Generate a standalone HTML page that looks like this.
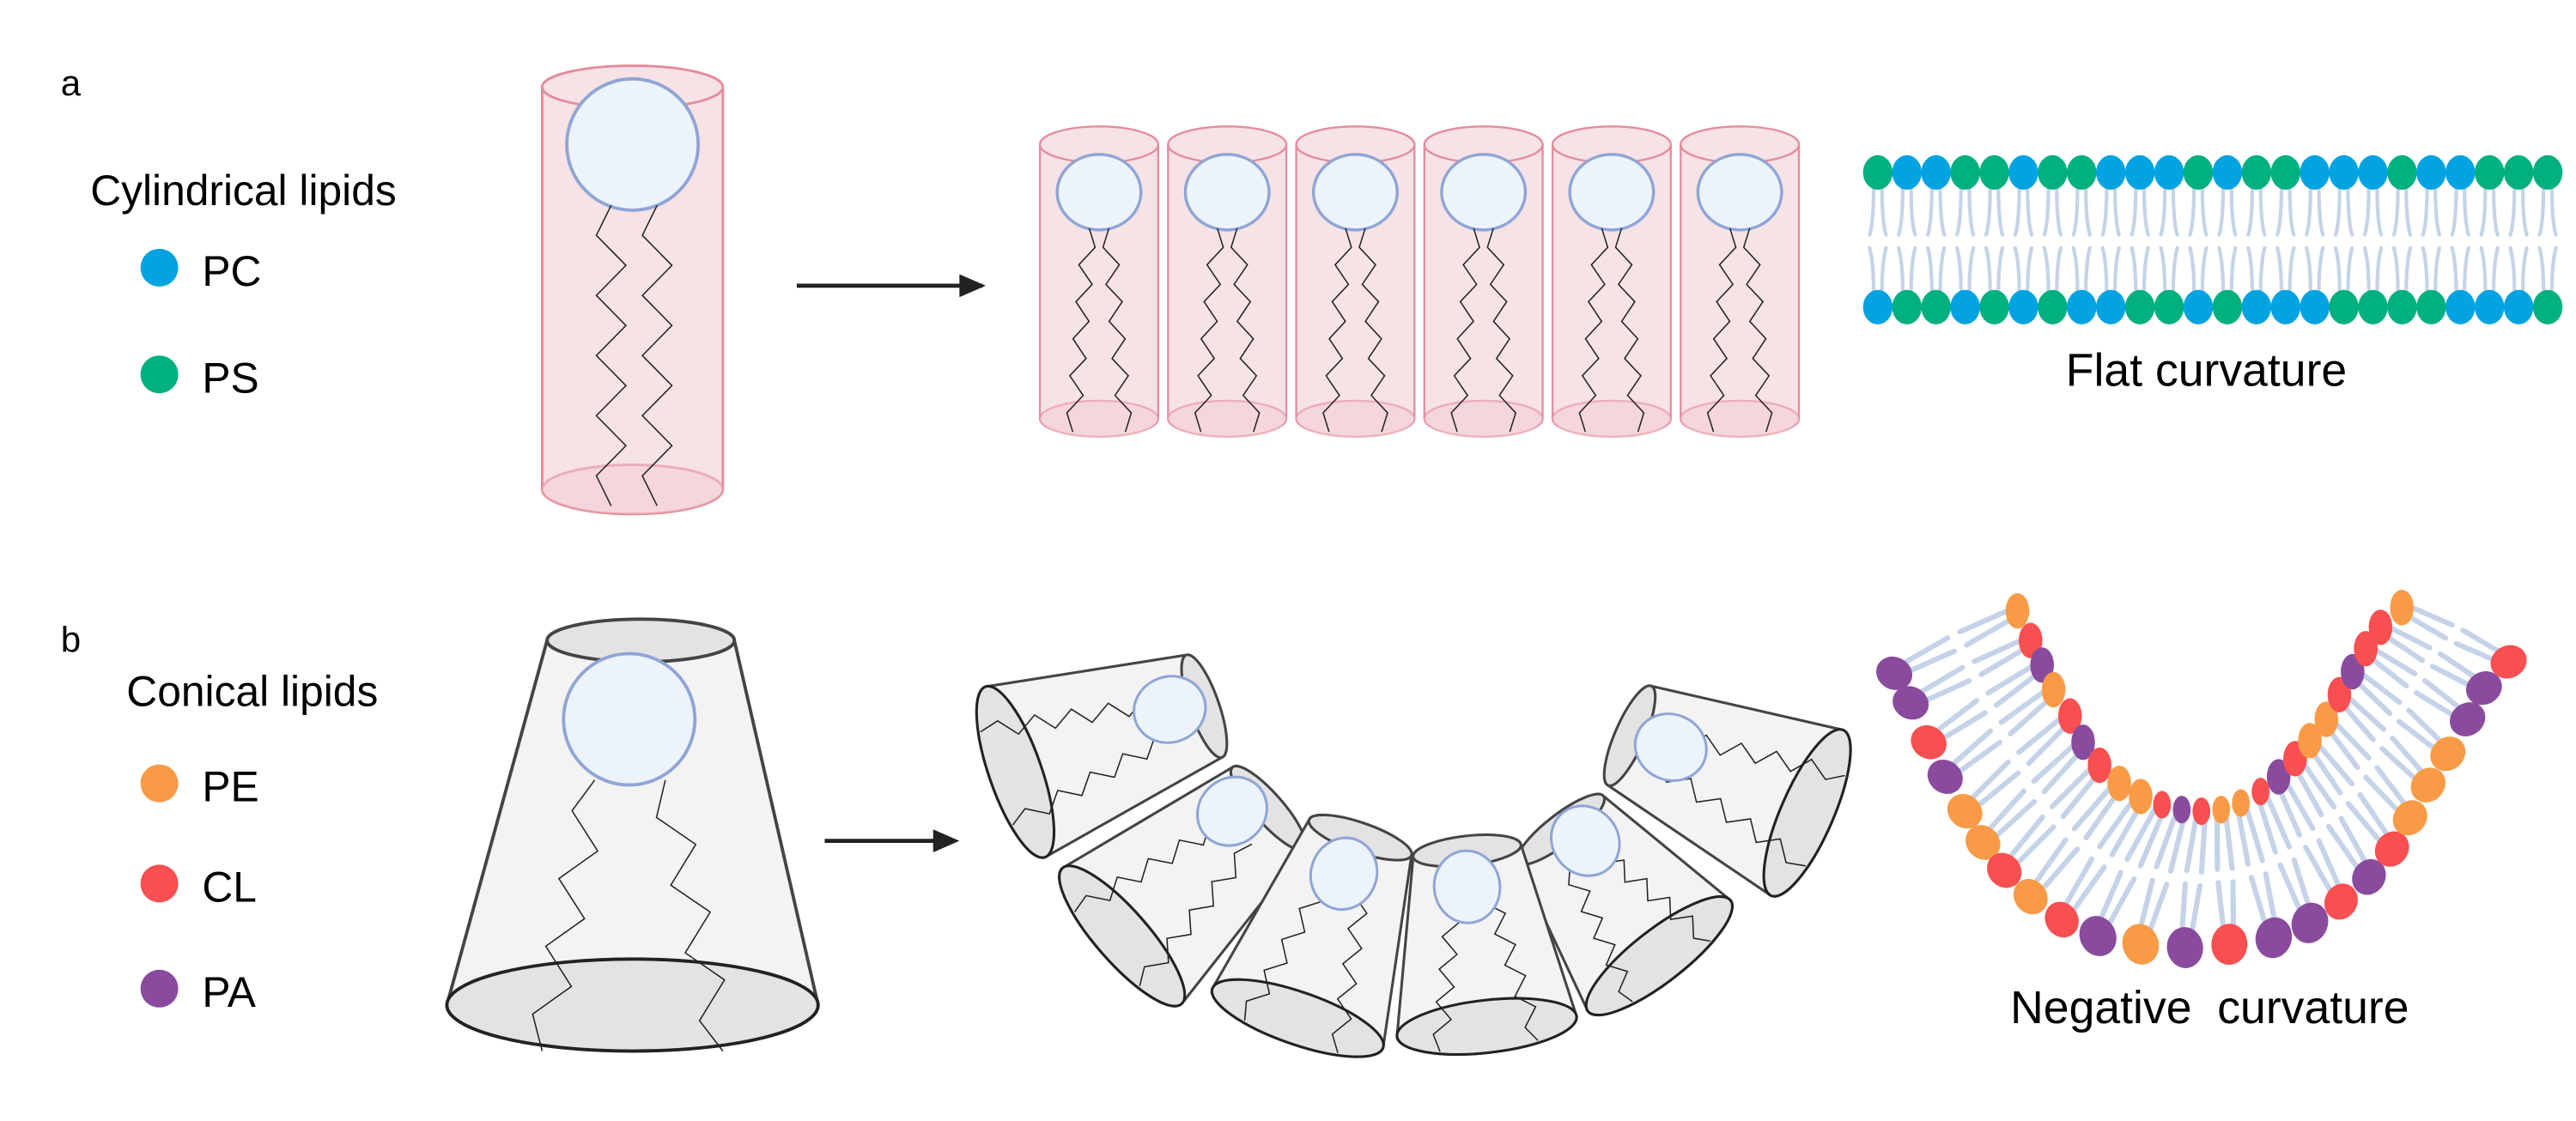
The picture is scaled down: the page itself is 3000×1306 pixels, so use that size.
<!DOCTYPE html>
<html><head><meta charset="utf-8">
<style>
html,body{margin:0;padding:0;background:#fff;}
svg{display:block;}
text{font-family:"Liberation Sans",sans-serif;fill:#000;}
</style></head>
<body>
<svg id="s" width="3000" height="1306" viewBox="0 0 1568 682.6" xmlns="http://www.w3.org/2000/svg">
<text x="37" y="58" font-size="22">a</text>
<text x="55" y="125" font-size="26">Cylindrical lipids</text>
<circle cx="97" cy="163" r="11.5" fill="#03a3e2"/>
<text x="123" y="174" font-size="26">PC</text>
<circle cx="97" cy="228" r="11.5" fill="#00b07f"/>
<text x="123" y="239" font-size="26">PS</text>
<text x="37" y="397" font-size="22">b</text>
<text x="77" y="430" font-size="26">Conical lipids</text>
<circle cx="97" cy="477" r="11.5" fill="#f99b46"/>
<text x="123" y="488" font-size="26">PE</text>
<circle cx="97" cy="538" r="11.5" fill="#f84f50"/>
<text x="123" y="549" font-size="26">CL</text>
<circle cx="97" cy="602" r="11.5" fill="#8a4b9f"/>
<text x="123" y="613" font-size="26">PA</text>
<text x="1343" y="235" font-size="28" text-anchor="middle">Flat curvature</text>
<text x="1345" y="623" font-size="28" text-anchor="middle" xml:space="preserve">Negative  curvature</text>
<line x1="485" y1="174" x2="598" y2="174" stroke="#222" stroke-width="2.5"/>
<path d="M584,167 L600,174 L584,181 z" fill="#222"/>
<line x1="502" y1="512" x2="570" y2="512" stroke="#222" stroke-width="2.5"/>
<path d="M568,505 L584,512 L568,519 z" fill="#222"/>
<g id="g"></g>
</svg>
<script>
var G=document.getElementById("g"),out="";
function zig(x0,y0,x1,y1,n,a){var dx=x1-x0,dy=y1-y0,L=Math.hypot(dx,dy),px=-dy/L,py=dx/L,p=[];
for(var i=0;i<=n;i++){var t=i/n,o=(i==0||i==n)?0:(i%2?a:-a);p.push((x0+dx*t+px*o).toFixed(1)+","+(y0+dy*t+py*o).toFixed(1));}
return '<polyline points="'+p.join(" ")+'" fill="none" stroke="#222" stroke-width="0.8"/>';}
// big cylinder
out+='<g fill="#f7e2e6" stroke="#e48c9c" stroke-width="1.5"><path d="M330,53 L330,298 A55,15 0 0 0 440,298 L440,53 z"/><ellipse cx="385" cy="53" rx="55" ry="13"/><ellipse cx="385" cy="298" rx="55" ry="15" fill="#f4d6dc" stroke-opacity="0.6"/></g>';
out+='<circle cx="385" cy="88" r="40" fill="#edf3fb" stroke="#8fa5d6" stroke-width="2"/>';
out+=zig(372,125,372,308,10,9)+zig(400,125,400,308,10,9);
// small cylinders
for(var k=0;k<6;k++){var x=633+k*78,c=x+36;
out+='<g fill="#f7e2e6" stroke="#e48c9c" stroke-width="1.2"><path d="M'+x+',88 L'+x+',255 A36,10 0 0 0 '+(x+72)+',255 L'+(x+72)+',88 z"/><ellipse cx="'+c+'" cy="88" rx="36" ry="11"/><ellipse cx="'+c+'" cy="255" rx="36" ry="11" fill="#f4d6dc" stroke-opacity="0.6"/></g>';
out+='<ellipse cx="'+c+'" cy="117" rx="25.5" ry="23" fill="#edf3fb" stroke="#8fa5d6" stroke-width="1.8"/>';
out+=zig(c-6,139,c-16,263,11,-4.5)+zig(c+6,139,c+16,263,11,4.5);}
// flat bilayer
var topS="GBBGGBGGBBBGBGGBBBGBBGGG",botS="BGGBGBGBBGGBGBBBGGGGBBBG";
for(var i=0;i<24;i++){var x=1143+i*17.73;
out+='<g stroke="#c5d3e8" stroke-width="2.2" fill="none" stroke-linecap="round"><path d="M'+(x-2.5)+',112 Q'+(x-2.5)+',135 '+(x-5)+',143"/><path d="M'+(x+2.5)+',112 Q'+(x+2.5)+',135 '+(x+5)+',143"/><path d="M'+(x-5)+',151 Q'+(x-2.5)+',160 '+(x-2.5)+',180"/><path d="M'+(x+5)+',151 Q'+(x+2.5)+',160 '+(x+2.5)+',180"/></g>';
out+='<ellipse cx="'+x+'" cy="105" rx="9" ry="10.5" fill="'+(topS.charAt(i)=="G"?"#00b07f":"#03a3e2")+'"/>';
out+='<ellipse cx="'+x+'" cy="187" rx="9" ry="10.5" fill="'+(botS.charAt(i)=="G"?"#00b07f":"#03a3e2")+'"/>';}
// big cone
out+='<path d="M333,390 L272,612 A113,28 0 0 0 498,612 L447,390 z" fill="#f3f3f3" stroke="#444" stroke-width="2"/>';
out+='<ellipse cx="390" cy="390" rx="57" ry="13" fill="#e3e3e3" stroke="#444" stroke-width="2"/>';
out+='<ellipse cx="385" cy="612" rx="113" ry="28" fill="#e3e3e3" stroke="#222" stroke-width="2"/>';
out+='<circle cx="383" cy="438" r="40" fill="#edf3fb" stroke="#8fa5d6" stroke-width="2"/>';
out+=zig(362,475,330,640,8,10)+zig(405,475,440,640,8,10);
// curved cones
var cones=[[733,430,618,470,712,432],[992,448,1100,495,1017,455],[772,492,683,570,750,494],[950,505,1010,582,965,512],[828,510,790,620,818,532],[893,518,905,625,893,540]];
cones.forEach(function(c){var dx=c[2]-c[0],dy=c[3]-c[1],L=Math.hypot(dx,dy),th=Math.atan2(-dx,dy)*180/Math.PI;
var g='<g transform="translate('+c[0]+','+c[1]+') rotate('+th.toFixed(1)+')">';
g+='<path d="M-33,0 L-55,'+L+' A55,16 0 0 0 55,'+L+' L33,0 z" fill="#f3f3f3" stroke="#444" stroke-width="1.6"/>';
g+='<ellipse cx="0" cy="0" rx="33" ry="9" fill="#e3e3e3" stroke="#444" stroke-width="1.6"/>';
g+='<ellipse cx="0" cy="'+L+'" rx="55" ry="16" fill="#e3e3e3" stroke="#222" stroke-width="1.6"/>';
g+=zig(-10,22,-30,L+12,10,5)+zig(10,22,30,L+12,10,5);
g+='</g>';out+=g;
out+='<ellipse cx="'+c[4]+'" cy="'+c[5]+'" rx="20" ry="22" transform="rotate('+th.toFixed(1)+' '+c[4]+' '+c[5]+')" fill="#edf3fb" stroke="#8fa5d6" stroke-width="1.6"/>';});
// negative curvature
var O=[[1153,410],[1163,428],[1174,452],[1184,473],[1196,494],[1207,513],[1220,530],[1236,546],[1255,560],[1277,570],[1303,575],[1330,577],[1357,575],[1384,571],[1406,562],[1425,549],[1442,534],[1456,517],[1467,498],[1478,478],[1490,459],[1502,438],[1512,419],[1527,403]];
var I=[[1228,372],[1236,390],[1243,405],[1250,420],[1260,436],[1268,452],[1278,466],[1290,477],[1303,485],[1316,490],[1328,493],[1340,494],[1352,493],[1364,489],[1376,482],[1387,473],[1397,462],[1406,451],[1416,438],[1424,423],[1432,409],[1440,395],[1449,382],[1462,370]];
var oc="PPRPOORORPOPRPPRPROOOPPRP",ic="ORPORPROORPROORPROORPRRO";
var col={P:"#8a4b9f",R:"#f84f50",O:"#f99b46"};
var tl='<g stroke="#c5d3e8" stroke-width="3.2" fill="none" stroke-linecap="round">';
for(var i=0;i<24;i++){var o=O[i],n=I[i];
var ox=(n[1]-o[1]),oy=-(n[0]-o[0]),ll=Math.hypot(ox,oy);ox=ox/ll*2.5;oy=oy/ll*2.5;
for(var s=-1;s<=1;s+=2){
tl+='<line x1="'+(o[0]+s*ox)+'" y1="'+(o[1]+s*oy)+'" x2="'+(o[0]+(n[0]-o[0])*0.46+s*ox*1.8)+'" y2="'+(o[1]+(n[1]-o[1])*0.46+s*oy*1.8)+'"/>';
tl+='<line x1="'+(n[0]+s*ox)+'" y1="'+(n[1]+s*oy)+'" x2="'+(o[0]+(n[0]-o[0])*0.56+s*ox*1.8)+'" y2="'+(o[1]+(n[1]-o[1])*0.56+s*oy*1.8)+'"/>';}}
tl+='</g>';out+=tl;
for(var i=0;i<24;i++){var o=O[i],n=I[i],a=Math.atan2(n[0]-o[0],-(n[1]-o[1]))*180/Math.PI;
var rs=(i>8&&i<15)?1.0:0.9;
out+='<ellipse cx="'+o[0]+'" cy="'+o[1]+'" rx="'+(11*rs)+'" ry="'+(12.5*rs)+'" fill="'+col[oc.charAt(i)]+'" transform="rotate('+(-a).toFixed(0)+' '+o[0]+' '+o[1]+')"/>';
var sm=(i>=9&&i<=14)?0.6:0.8;
out+='<ellipse cx="'+n[0]+'" cy="'+n[1]+'" rx="'+(9*sm)+'" ry="'+(12*(sm+0.1))+'" fill="'+col[ic.charAt(i)]+'"/>';}
G.innerHTML=out;
</script>
</body></html>
